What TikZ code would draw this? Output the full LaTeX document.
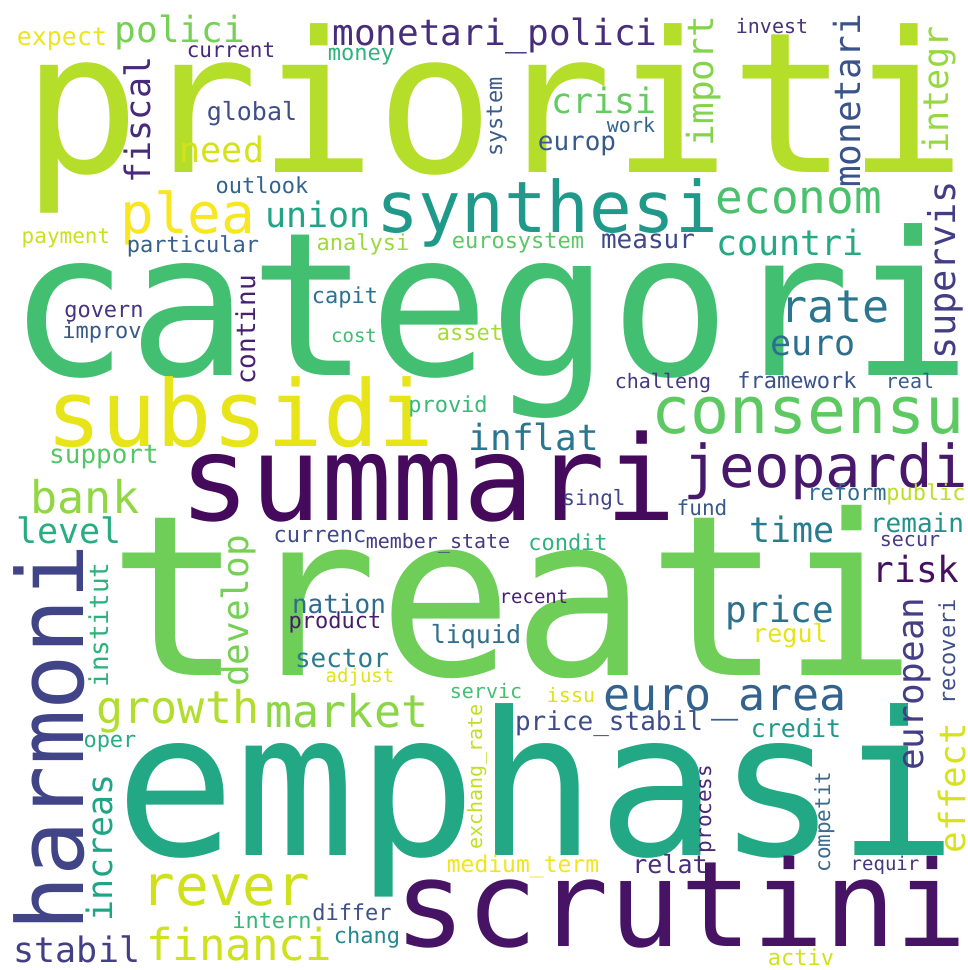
\documentclass[tikz,border=0pt]{standalone}
\usepackage{fontspec}
\usepackage{tikz}
\newfontfamily\wcfont{DejaVu Sans Mono}

\begin{document}
\begin{tikzpicture}[x=1pt,y=-1pt,
    word/.style={inner sep=0pt,anchor=base,font=\wcfont\fontsize{#1}{#1}\selectfont}]
      \useasboundingbox[fill=white] (0,0) rectangle (968,970);
      % horizontal words: centre x / baseline y / size / colour / text
      \foreach \x/\y/\s/\c/\w [count=\n] in {
        495/172/196/B5DE2B/prioriti, 490/375/200/43BF71/categori,
        513/675/224/6ECE58/treati, 537/855/200/22A884/emphasi,
        428/520/118/460A5D/summari, 681/946/119/471365/scrutini,
        240/446/92/E7E419/subsidi, 547/232/71/1F9A8A/synthesi,
        808/433/65/5EC962/consensu, 826/487/59/48186A/jeopardi,
        226/905/56/D0E11C/rever, 239/960/44/CDE11D/financi,
        188/233/56/F8E621/plea, 318/227/35/20A486/union,
        799/213/46/4AC16D/econom, 790/255/35/24AA83/countri,
        835/322/45/2B758E/rate, 813/355/35/2D708E/euro,
        772/33/20/46337E/invest, 604/113/35/63CB5F/crisi,
        495/45/36/472D7B/monetari\_polici, 361/60/22/2EB37C/money,
        231/57/21/482878/current, 62/45/25/EDE51B/expect,
        180/42/36/75D054/polici, 252/120/25/3D4E8A/global,
        222/162/35/D5E21A/need, 262/193/22/32648E/outlook,
        66/243/21/C8E020/payment, 193/252/22/355F8D/particular,
        363/250/22/9BD93C/analysi, 518/248/22/5AC864/eurosystem,
        648/248/26/3F4889/measur, 577/150/26/38598C/europ,
        631/132/20/32658E/work, 345/303/22/2C718E/capit,
        104/317/22/453581/govern, 102/338/22/375A8C/improv,
        354/342/19/3FBC73/cost, 470/340/22/A5DB36/asset,
        448/412/22/38B977/provid, 534/450/36/2A768E/inflat,
        663/388/20/443A83/challeng, 797/388/22/3B528B/framework,
        910/388/20/3B5A8C/real, 104/463/26/55C667/support,
        85/513/45/90D743/bank, 69/543/35/27AD81/level,
        320/542/22/3F4B8A/currenc, 438/548/20/463B82/member\_state,
        568/550/22/2EB37C/condit, 594/505/21/42458A/singl,
        702/515/21/38598C/fund, 847/500/22/2F6C8E/reform,
        926/500/22/BDDF26/public, 792/542/35/287C8E/time,
        917/532/26/21918C/remain, 910/546/20/4A3A85/secur,
        916/582/36/46105F/risk, 780/622/36/2C728E/price,
        790/642/25/E5E419/regul, 339/613/26/2F6B8E/nation,
        335/628/22/481B6D/product, 534/603/19/482173/recent,
        476/643/25/2E6E8E/liquid, 342/667/26/297B8E/sector,
        360/682/19/DDE318/adjust, 178/723/45/B2DD2D/growth,
        347/727/45/8BD646/market, 110/747/22/25AC82/oper,
        272/928/22/35B779/intern, 77/962/35/423F85/stabil,
        352/920/22/3F508A/differ, 367/943/22/23888E/chang,
        486/698/20/44BF70/servic, 571/702/20/DDE318/issu,
        725/710/45/33638D/euro\_area, 609/730/26/3E4C8A/price\_stabil,
        796/737/25/1F9A8A/credit, 523/872/23/F1E51D/medium\_term,
        670/873/25/472F7D/relat, 885/870/19/453781/requir,
        801/965/22/D0E11C/activ}
      {\definecolor{wc}{HTML}{\c}
       \node[word=\s,text=wc] (h\n) at (\x,\y) {\w};}
      % vertical words: baseline x / centre y / size / colour / text
      \foreach \x/\y/\s/\c/\w [count=\n] in {
        83/738/92/414487/harmoni, 955/270/37/433D84/supervis,
        860/101/36/3A538B/monetari, 948/90/35/95D840/integr,
        713/81/36/84D44B/import, 150/120/35/472A7A/fiscal,
        502/117/22/3B5B8C/system, 255/330/26/482071/continu,
        108/625/26/2DB27D/institut, 248/611/36/75D054/develop,
        923/684/36/433E85/european, 965/788/36/D8E219/effect,
        955/652/22/404F8A/recoveri, 112/848/35/20A486/increas,
        482/777/20/C2DF23/exchang\_rate, 711/809/21/482878/process,
        830/822/21/3B6A8E/competit}
      {\definecolor{wc}{HTML}{\c}
       \node[word=\s,text=wc,rotate=90] (v\n) at (\x,\y) {\w};}
\end{tikzpicture}
\end{document}
